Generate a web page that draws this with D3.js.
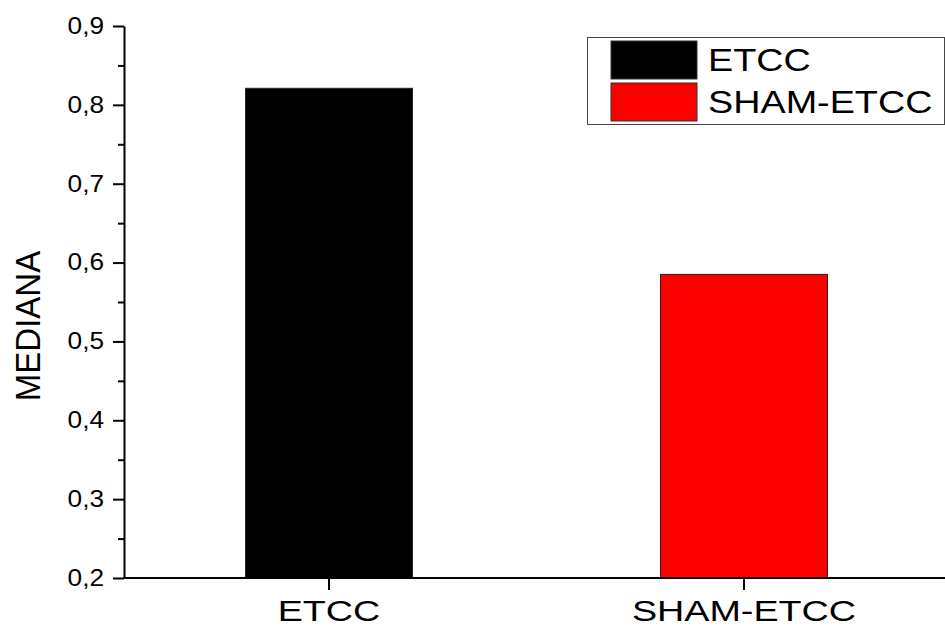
<!DOCTYPE html>
<html>
<head>
<meta charset="utf-8">
<script src="https://cdn.jsdelivr.net/npm/d3@7"></script>
<style>
  html, body { margin: 0; padding: 0; background: #fff; }
  svg { display: block; font-family: "Liberation Sans", Arial, sans-serif; }
</style>
</head>
<body>
<svg id="chart" width="945" height="626"></svg>
<script>
const categories = ["ETCC", "SHAM-ETCC"];
const values = [0.821, 0.585];
const colors = ["#000000", "#ff0000"];
const majorTicks = [0.2, 0.3, 0.4, 0.5, 0.6, 0.7, 0.8, 0.9];
const minorTicks = [0.25, 0.35, 0.45, 0.55, 0.65, 0.75, 0.85];
const yTitle = "MEDIANA";

const svg = d3.select("#chart");
const y = d3.scaleLinear().domain([0.2, 0.9]).range([578, 26]);
const x = d3.scaleBand().domain(categories).range([125, 948])
  .paddingInner(0.5976).paddingOuter(0.2904);

function stretch(sel, f) {
  sel.each(function () {
    const w = this.getComputedTextLength();
    d3.select(this).attr("textLength", w * f).attr("lengthAdjust", "spacingAndGlyphs");
  });
}

// bars
svg.append("g").selectAll("rect").data(categories).join("rect")
  .attr("x", d => x(d))
  .attr("width", x.bandwidth())
  .attr("y", (d, i) => y(values[i]))
  .attr("height", (d, i) => y(0.2) - y(values[i]))
  .attr("fill", (d, i) => colors[i])
  .attr("stroke", "#222").attr("stroke-width", 1);

// y axis
const yAxis = svg.append("g").attr("transform", "translate(124,0)")
  .call(d3.axisLeft(y).tickValues(majorTicks).tickSizeOuter(0).tickSizeInner(11).tickPadding(9)
    .tickFormat(d => d3.format(".1f")(d).replace(".", ",")));
yAxis.select(".domain").attr("stroke", "#000").attr("stroke-width", 2);
yAxis.selectAll(".tick line").attr("stroke", "#000").attr("stroke-width", 2);
yAxis.selectAll(".tick text").attr("font-size", 23).attr("fill", "#000")
  .attr("font-family", "Liberation Sans, Arial, sans-serif").call(stretch, 1.14);
svg.append("g").attr("transform", "translate(124,0)")
  .call(d3.axisLeft(y).tickValues(minorTicks).tickSize(6).tickFormat(""))
  .call(g => g.select(".domain").remove())
  .selectAll("line").attr("stroke", "#000").attr("stroke-width", 2);

// x axis
const xAxis = svg.append("g").attr("transform", "translate(0,578)")
  .call(d3.axisBottom(x).tickSizeOuter(0).tickSize(12).tickPadding(10));
xAxis.select(".domain").attr("d", "M123,0H945").attr("stroke", "#000").attr("stroke-width", 2);
xAxis.selectAll(".tick line").attr("stroke", "#000").attr("stroke-width", 2);
xAxis.selectAll(".tick text").attr("font-size", 29).attr("fill", "#000")
  .attr("font-family", "Liberation Sans, Arial, sans-serif").call(stretch, 1.3);

// y title
svg.append("text")
  .attr("transform", "translate(28,326) scale(1.18,1) rotate(-90)")
  .attr("text-anchor", "middle").attr("dy", "0.35em")
  .attr("font-size", 30).attr("fill", "#000")
  .text(yTitle)
  .call(stretch, 1.1);

// legend
const lg = svg.append("g");
lg.append("rect").attr("x", 587.5).attr("y", 37.5).attr("width", 357).attr("height", 87)
  .attr("fill", "#fff").attr("stroke", "#444").attr("stroke-width", 1);
const rowsY = [41, 83];
const rowsH = [38, 38];
categories.forEach((c, i) => {
  lg.append("rect").attr("x", 611).attr("y", rowsY[i]).attr("width", 86).attr("height", rowsH[i])
    .attr("fill", colors[i]).attr("stroke", "#333").attr("stroke-width", 1);
  lg.append("text").attr("x", 708).attr("y", rowsY[i] + 30)
    .attr("font-size", 32).attr("fill", "#000").text(c).call(stretch, 1.18);
});
</script>
</body>
</html>
